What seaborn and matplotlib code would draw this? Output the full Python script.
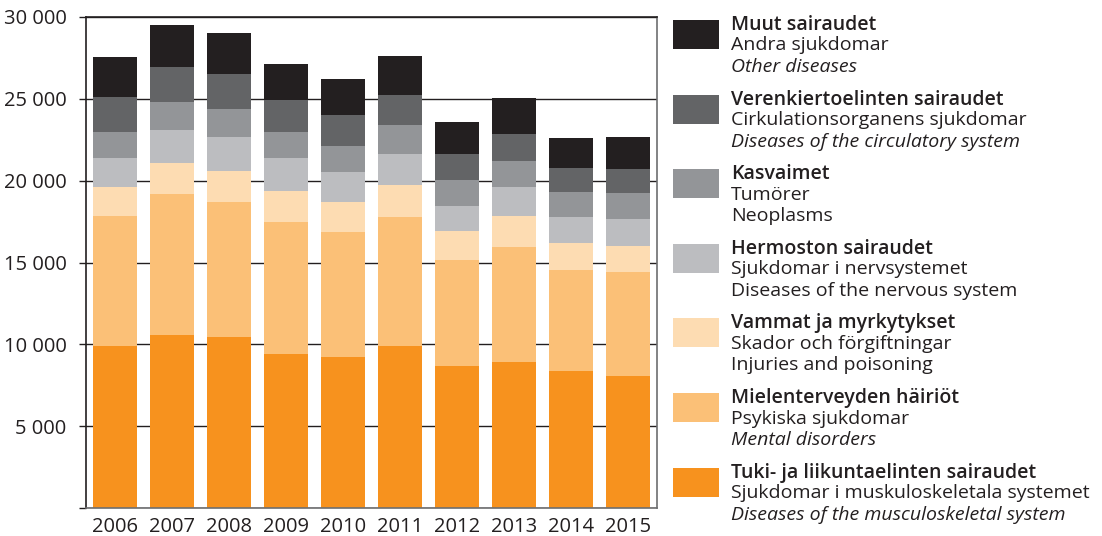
import pandas as pd
import matplotlib.pyplot as plt
import seaborn as sns
from matplotlib.patches import Rectangle
from matplotlib.ticker import FuncFormatter, MultipleLocator

years = ['2006', '2007', '2008', '2009', '2010', '2011', '2012', '2013', '2014', '2015']

# bottom -> top
tuki = [9870, 10540, 10420, 9380, 9240, 9870, 8700, 8950, 8400, 8090]
mieli = [7950, 8620, 8250, 8070, 7600, 7890, 6480, 7010, 6160, 6340]
vammat = [1770, 1940, 1920, 1940, 1860, 1970, 1720, 1860, 1630, 1550]
hermo = [1780, 2020, 2100, 2020, 1810, 1920, 1570, 1770, 1590, 1700]
kasvaimet = [1630, 1710, 1710, 1590, 1630, 1730, 1570, 1630, 1550, 1590]
verenk = [2140, 2140, 2130, 1910, 1880, 1880, 1610, 1650, 1450, 1420]
muut = [2430, 2550, 2480, 2230, 2200, 2360, 1920, 2190, 1830, 1980]

labels_fi = ['Tuki- ja liikuntaelinten sairaudet', 'Mielenterveyden häiriöt',
             'Vammat ja myrkytykset', 'Hermoston sairaudet', 'Kasvaimet',
             'Verenkiertoelinten sairaudet', 'Muut sairaudet']
labels_sv = ['Sjukdomar i muskuloskeletala systemet', 'Psykiska sjukdomar',
             'Skador och förgiftningar', 'Sjukdomar i nervsystemet', 'Tumörer',
             'Cirkulationsorganens sjukdomar', 'Andra sjukdomar']
labels_en = ['Diseases of the musculoskeletal system', 'Mental disorders',
             'Injuries and poisoning', 'Diseases of the nervous system', 'Neoplasms',
             'Diseases of the circulatory system', 'Other diseases']
en_italic = [True, True, False, False, False, True, True]

colors = ['#f7921e', '#fbc077', '#fddcb2', '#bcbdc0', '#939598', '#636466', '#231f20']
txt = '#231f20'

series = [tuki, mieli, vammat, hermo, kasvaimet, verenk, muut]
df = pd.DataFrame({'vuosi': years})
cum = 0
for i, s in enumerate(series):
    cum = cum + pd.Series(s)
    df[f'c{i}'] = cum

sns.set_style('white')
plt.rcParams['font.family'] = ['Open Sans', 'DejaVu Sans']

fig = plt.figure(figsize=(11.02, 5.36), dpi=100)
ax = fig.add_axes([86 / 1102, 1 - 508 / 536, (657 - 86) / 1102, (508 - 17) / 536])

# draw cumulative totals from top layer down
for i in range(len(series) - 1, -1, -1):
    sns.barplot(data=df, x='vuosi', y=f'c{i}', color=colors[i], width=0.76,
                linewidth=0, saturation=1, ax=ax, zorder=2)

ax.set_ylim(0, 30000)
ax.set_xlim(-0.51, 9.51)
ax.yaxis.set_major_locator(MultipleLocator(5000))
ax.yaxis.set_major_formatter(FuncFormatter(lambda v, p: '' if v == 0 else f'{v:,.0f}'.replace(',', ' ')))
ax.grid(axis='y', color=txt, linewidth=1, zorder=0)
ax.set_axisbelow(True)
ax.set_xlabel('')
ax.set_ylabel('')
ax.tick_params(axis='y', left=True, length=5, width=1, color=txt, pad=9,
               labelsize=14.5, labelcolor=txt)
ax.tick_params(axis='x', bottom=False, pad=3, labelsize=14.5, labelcolor=txt)
for side in ['left', 'top']:
    ax.spines[side].set_color(txt)
    ax.spines[side].set_linewidth(1.2)
for side in ['right', 'bottom']:
    ax.spines[side].set_color('#6d6e70')
    ax.spines[side].set_linewidth(1.2)

# legend, top entry first
W, H = 1102, 536
for k, i in enumerate(range(len(series) - 1, -1, -1)):
    top = 20 + k * 74.6
    fig.add_artist(Rectangle((673 / W, 1 - (top + 29) / H), 46 / W, 29 / H,
                             transform=fig.transFigure, color=colors[i], lw=0))
    fig.text(731 / W, 1 - (top - 5) / H, labels_fi[i], fontsize=14,
             fontweight='semibold', color=txt, va='top')
    fig.text(731 / W, 1 - (top + 16.5) / H, labels_sv[i], fontsize=14,
             color=txt, va='top')
    fig.text(731 / W, 1 - (top + 38) / H, labels_en[i], fontsize=14,
             color=txt, va='top', style='italic' if en_italic[i] else 'normal')

fig.savefig('out.png', dpi=100)
